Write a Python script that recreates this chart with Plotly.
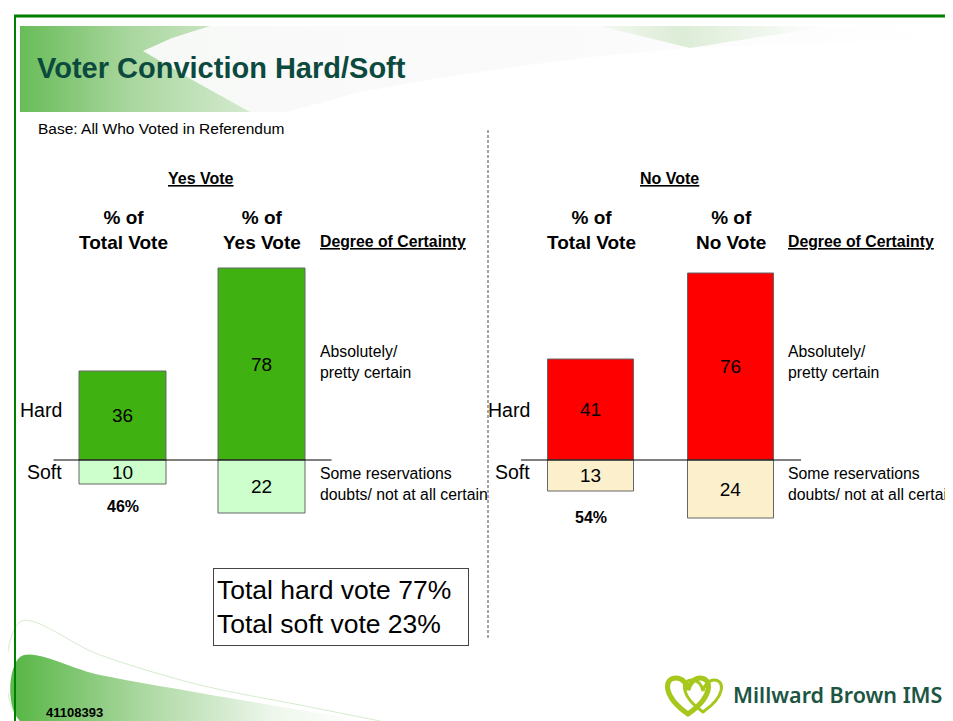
import plotly.graph_objects as go

# the page adds an 8px body margin, so the figure is 8px smaller and
# every position below is given in the picture's own pixel frame
OFF = 8
W, H = 953 - OFF, 721 - OFF

# data
yes_cats = ["% of<br>Total Vote", "% of<br>Yes Vote"]
no_cats = ["% of<br>Total Vote", "% of<br>No Vote"]
yes_hard = [36, 78]
yes_soft = [10, 22]
no_hard = [41, 76]
no_soft = [13, 24]
yes_share = "46%"
no_share = "54%"
total_hard = 77
total_soft = 23

YES_HARD, YES_SOFT = "#3fb211", "#ccffcc"
NO_HARD, NO_SOFT = "#ff0000", "#fcefcc"
FONT = "Liberation Sans, Arial, sans-serif"


def px(x):
    return (x - OFF) / W


def py(y):
    return 1 - (y - OFF) / H


fig = go.Figure()

# --- slide decoration, drawn on a pixel-frame axis (xaxis / yaxis) ---
deco = dict(xaxis="x", yaxis="y", hoverinfo="skip", showlegend=False, mode="lines")
# green header band
fig.add_trace(go.Scatter(
    x=[20, 270, 270, 20, 20], y=[26, 26, 112, 112, 26], fill="toself", line_width=0,
    fillgradient=dict(type="horizontal", start=20, stop=260,
                      colorscale=[[0, "#68bc58"], [0.45, "#a8d69d"], [1, "#d8ecd3"]]),
    **deco))
# pale sweep cutting into it
fig.add_trace(go.Scatter(
    x=[210, 172, 143, 196, 250, 950, 950, 210],
    y=[26, 38, 51, 82, 112, 112, 26, 26],
    fill="toself", line_width=0,
    fillgradient=dict(type="horizontal", start=140, stop=950,
                      colorscale=[[0, "#f7f9f7"], [0.5, "#fafafa"], [1, "#ffffff"]]),
    **deco))
fig.add_trace(go.Scatter(
    x=[287, 360, 440, 520, 600, 690, 800, 950, 950, 287],
    y=[112, 92, 78, 66, 56, 48, 43, 40, 112, 112],
    fill="toself", fillcolor="#ffffff", line_width=0, **deco))
fig.add_trace(go.Scatter(
    x=[600, 690, 830, 600], y=[26, 48, 26, 26], fill="toself", line_width=0,
    fillgradient=dict(type="horizontal", start=600, stop=830,
                      colorscale=[[0, "#f3f8f1"], [0.35, "#dcecd6"], [1, "#ffffff"]]),
    **deco))
# footer swoosh
fig.add_trace(go.Scatter(
    x=[20, 20, 100, 200, 300, 380, 380, 20],
    y=[721, 622, 655, 685, 705, 721, 721, 721],
    fill="toself", fillcolor="#ffffff", line=dict(width=1, color="#d6ecd0", shape="spline"),
    **deco))
fig.add_trace(go.Scatter(
    x=[20, 20, 100, 200, 300, 360, 20],
    y=[721, 657, 675, 693, 710, 721, 721],
    fill="toself", line=dict(width=0, shape="spline"),
    fillgradient=dict(type="horizontal", start=20, stop=360,
                      colorscale=[[0, "#5cb84a"], [0.35, "#a9d79e"], [0.75, "#eef7ec"], [1, "#ffffff"]]),
    **deco))


# --- bars ---
def add_panel(cats, hard, soft, hard_col, soft_col, xa, ya):
    common = dict(x=cats, width=0.62, xaxis=xa, yaxis=ya, textposition="inside",
                  insidetextanchor="middle", constraintext="none", hoverinfo="skip",
                  showlegend=False, textfont=dict(size=19, color="black", family=FONT))
    fig.add_trace(go.Bar(y=hard, text=[str(v) for v in hard],
                         marker=dict(color=hard_col, line=dict(color="#666", width=1)), **common))
    fig.add_trace(go.Bar(y=[-v for v in soft], text=[str(v) for v in soft],
                         marker=dict(color=soft_col, line=dict(color="#666", width=1)), **common))


add_panel(yes_cats, yes_hard, yes_soft, YES_HARD, YES_SOFT, "x2", "y2")
add_panel(no_cats, no_hard, no_soft, NO_HARD, NO_SOFT, "x3", "y3")

ydom = [py(558), py(239.5)]
hidden = dict(visible=False, showgrid=False, zeroline=False)
fig.update_layout(
    width=W, height=H, margin=dict(l=0, r=0, t=0, b=0),
    paper_bgcolor="white", plot_bgcolor="rgba(0,0,0,0)",
    barmode="relative", bargap=0,
    uniformtext=dict(minsize=16, mode="show"),
    font=dict(family=FONT, color="black"),
    xaxis=dict(domain=[0, 1], range=[OFF, OFF + W], fixedrange=True, **hidden),
    yaxis=dict(domain=[0, 1], range=[OFF + H, OFF], fixedrange=True, **hidden),
    xaxis2=dict(domain=[px(53.5), px(331.5)], range=[-0.5, 1.5], anchor="y2", **hidden),
    yaxis2=dict(domain=ydom, range=[-40, 90], anchor="x2", **hidden),
    xaxis3=dict(domain=[px(521), px(801)], range=[-0.5, 1.5], anchor="y3", **hidden),
    yaxis3=dict(domain=ydom, range=[-40, 90], anchor="x3", **hidden),
)

shapes = [
    # slide frame
    dict(type="line", xref="paper", yref="paper", x0=px(14), x1=1, y0=py(16), y1=py(16),
         line=dict(color="#008000", width=3)),
    dict(type="line", xref="paper", yref="paper", x0=px(15), x1=px(15), y0=py(16), y1=0,
         line=dict(color="#008000", width=2)),
    # divider
    dict(type="line", xref="paper", yref="paper", x0=px(488), x1=px(488), y0=py(130), y1=py(638),
         line=dict(color="#888", width=1.5, dash="3px,2px")),
    # zero lines
    dict(type="line", xref="x2 domain", yref="y2", x0=0, x1=1, y0=0, y1=0,
         line=dict(color="black", width=1)),
    dict(type="line", xref="x3 domain", yref="y3", x0=0, x1=1, y0=0, y1=0,
         line=dict(color="black", width=1)),
    # logo hearts
    dict(type="path", xref="x", yref="y",
         path="M 688,714 C 662,696 664,678 676,678 C 683,678 687,684 688,690 "
              "C 689,684 694,678 700,678 C 712,678 714,696 688,714 Z",
         line=dict(color="#a6c81c", width=5)),
    dict(type="path", xref="x", yref="y",
         path="M 703,712 C 680,696 681,680 692,680 C 698,680 702,685 703,691 "
              "C 704,685 709,680 714,680 C 725,680 726,696 703,712 Z",
         line=dict(color="#a6c81c", width=3)),
]
fig.update_layout(shapes=shapes)


def note(text, x, y, size=13, xanchor="left", bold=False, **kw):
    if bold:
        text = f"<b>{text}</b>"
    font = dict(size=size, family=kw.pop("family", FONT), color=kw.pop("color", "black"))
    if "weight" in kw:
        font["weight"] = kw.pop("weight")
    fig.add_annotation(text=text, x=px(x), y=py(y), xref="paper", yref="paper",
                       xanchor=xanchor, yanchor="middle", showarrow=False, font=font, **kw)


note("Voter Conviction Hard/Soft", 35, 68, size=29, bold=True, color="#0d4a3e")
note("Base: All Who Voted in Referendum", 36, 128, size=15.5)

for x0, panel, cats, share, share_y in [
    (0, "Yes Vote", yes_cats, yes_share, 507),
    (468, "No Vote", no_cats, no_share, 517),
]:
    note(f"<u>{panel}</u>", x0 + 201, 178, size=16, xanchor="center", bold=True)
    xa = "x2" if x0 == 0 else "x3"
    for c in cats:
        fig.add_annotation(text=f"<b>{c}</b>", x=c, xref=xa, y=py(230), yref="paper",
                           showarrow=False, yanchor="middle", font=dict(size=19, family=FONT))
    note("<u>Degree of Certainty</u>", x0 + 318, 241, size=15.8, bold=True)
    note("Absolutely/<br>pretty certain", x0 + 318, 362, size=15.8, align="left")
    note("Some reservations<br>doubts/ not at all certain", x0 + 318, 484, size=15.8, align="left")
    note("Hard", x0 + 64, 410, size=19.5, xanchor="right")
    note("Soft", x0 + 64, 472, size=19.5, xanchor="right")
    fig.add_annotation(text=f"<b>{share}</b>", x=cats[0], xref=xa, y=py(share_y), yref="paper",
                       showarrow=False, yanchor="middle", font=dict(size=16, family=FONT))

note(f"Total hard vote {total_hard}%<br>Total soft vote {total_soft}%", 341, 607, size=26.5,
     xanchor="center", align="left", width=248, height=70, bordercolor="#444",
     borderwidth=1, borderpad=3, bgcolor="white")
note("41108393", 44, 712, size=13, bold=True)
note("Millward Brown IMS", 731, 694, size=21.5, color="#1d5543",
     family="Noto Sans, Open Sans, sans-serif", weight=600)

fig.write_html("out.html")
